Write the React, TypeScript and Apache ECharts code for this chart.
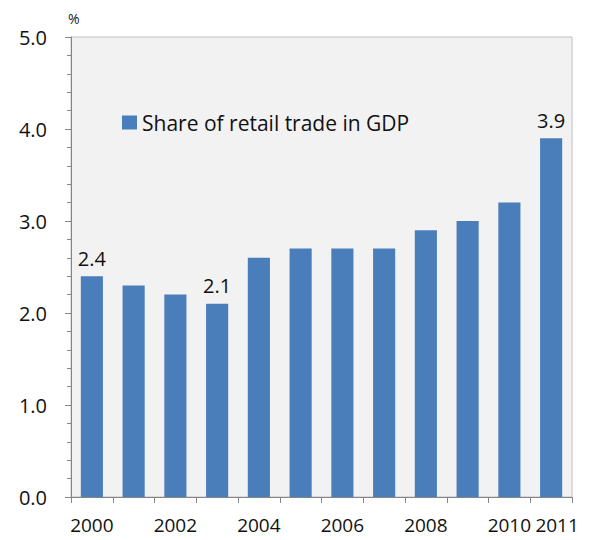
import React, { useEffect, useRef } from "react";
import * as echarts from "echarts";

const years = ["2000", "2001", "2002", "2003", "2004", "2005", "2006", "2007", "2008", "2009", "2010", "2011"];
const shareValues = [2.4, 2.3, 2.2, 2.1, 2.6, 2.7, 2.7, 2.7, 2.9, 3.0, 3.2, 3.9];
const labelledYears = ["2000", "2003", "2011"];
const shownXLabels = ["2000", "2002", "2004", "2006", "2008", "2010", "2011"];
const seriesName = "Share of retail trade in GDP";

export default function App() {
  const ref = useRef<HTMLDivElement>(null);
  useEffect(() => {
    if (!ref.current) return;
    const chart = echarts.init(ref.current, null, { renderer: "svg" });
    const font = "'Open Sans', 'DejaVu Sans', sans-serif";
    chart.setOption({
      animation: false,
      textStyle: { fontFamily: font },
      grid: {
        left: 71,
        right: 25,
        top: 37,
        bottom: 43,
        show: true,
        backgroundColor: "#F2F2F2",
        borderColor: "#BFBFBF",
        borderWidth: 1,
      },
      legend: {
        data: [seriesName],
        left: 117,
        top: 107,
        itemWidth: 15,
        itemHeight: 14,
        itemGap: 6,
        icon: "rect",
        textStyle: { fontSize: 21, color: "#111", fontFamily: font, padding: [0, 0, 0, 0] },
      },
      xAxis: {
        type: "category",
        data: years.map((y) =>
          y === "2011" ? { value: y, textStyle: { padding: [0, 0, 0, 12] } } : y
        ),
        axisLine: { lineStyle: { color: "#868686" } },
        axisTick: { show: true, length: 6, lineStyle: { color: "#868686" } },
        axisLabel: {
          interval: 0,
          formatter: (v: string) => (shownXLabels.includes(v) ? v : ""),
          fontSize: 19,
          color: "#111",
          margin: 18,
          fontFamily: font,
        },
        splitLine: { show: false },
      },
      yAxis: {
        type: "value",
        min: 0,
        max: 5,
        interval: 1,
        name: "%",
        nameLocation: "end",
        nameGap: 12,
        nameTextStyle: { fontSize: 14, color: "#222", align: "left", padding: [0, 0, 0, -3] },
        axisLine: { show: true, lineStyle: { color: "#868686" } },
        axisTick: { show: true, length: 6, lineStyle: { color: "#868686" } },
        minorTick: { show: true, splitNumber: 5, length: 4, lineStyle: { color: "#868686" } },
        axisLabel: {
          formatter: (v: number) => v.toFixed(1),
          fontSize: 20,
          color: "#111",
          margin: 24,
          fontFamily: font,
        },
        splitLine: { show: false },
      },
      series: [
        {
          name: seriesName,
          type: "bar",
          barWidth: "53%",
          itemStyle: { color: "#4A7EBB" },
          data: years.map((y, i) => ({
            value: shareValues[i],
            label: {
              show: labelledYears.includes(y),
              position: "top",
              distance: 8,
              fontSize: 20,
              color: "#111",
              fontFamily: font,
              formatter: (p: any) => Number(p.value).toFixed(1),
            },
          })),
        },
      ],
    });
    return () => chart.dispose();
  }, []);
  return <div ref={ref} style={{ width: 597, height: 540, margin: -8 }} />;
}
